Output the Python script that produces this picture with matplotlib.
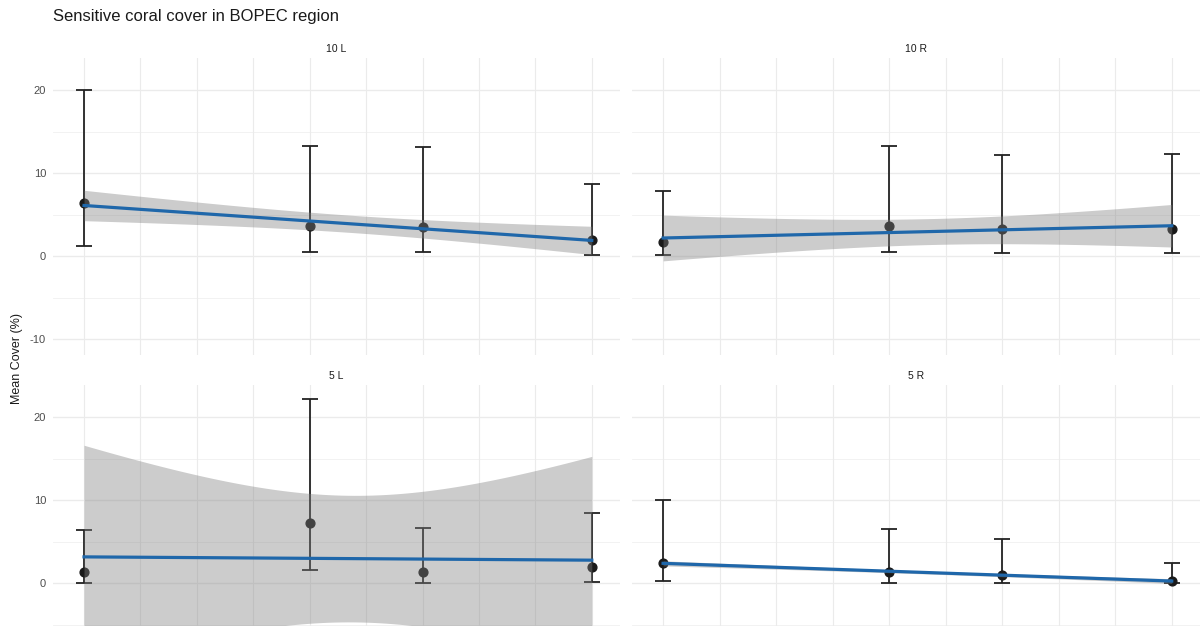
import numpy as np
import matplotlib
matplotlib.use('Agg')
import matplotlib.pyplot as plt

plt.rcParams['font.family'] = ['Liberation Sans', 'DejaVu Sans']
plt.rcParams['axes.unicode_minus'] = False

# survey years and sites (facets)
years = np.array([2011, 2015, 2017, 2020])
sites = ['10 L', '10 R', '5 L', '5 R']

# mean cover and error bar limits
mean_10L = [6.37, 3.67, 3.55, 2.02]
low_10L = [1.25, 0.56, 0.56, 0.16]
high_10L = [20.0, 13.34, 13.18, 8.75]

mean_10R = [1.73, 3.67, 3.27, 3.27]
low_10R = [0.12, 0.56, 0.44, 0.44]
high_10R = [7.82, 13.34, 12.17, 12.34]

mean_5L = [1.33, 7.30, 1.33, 1.94]
low_5L = [0.04, 1.57, 0.04, 0.20]
high_5L = [6.45, 22.26, 6.61, 8.51]

mean_5R = [2.46, 1.37, 0.97, 0.32]
low_5R = [0.28, 0.08, 0.08, 0.05]
high_5R = [10.0, 6.57, 5.32, 2.42]

means = [mean_10L, mean_10R, mean_5L, mean_5R]
lows = [low_10L, low_10R, low_5L, low_5R]
highs = [high_10L, high_10R, high_5L, high_5R]


def lm_fit(x, y, n=80):
    '''linear fit with 95% confidence band, like geom_smooth(method="lm")'''
    x = np.asarray(x, float)
    y = np.asarray(y, float)
    xc = x - x.mean()
    slope = np.sum(xc * (y - y.mean())) / np.sum(xc ** 2)
    icept = y.mean() - slope * x.mean()
    xs = np.linspace(x.min(), x.max(), n)
    fit = icept + slope * xs
    resid = y - (icept + slope * x)
    s = np.sqrt(np.sum(resid ** 2) / (len(x) - 2))
    se = s * np.sqrt(1 / len(x) + (xs - x.mean()) ** 2 / np.sum(xc ** 2))
    t = 4.302653  # t quantile 0.975, df = 2
    return xs, fit, fit - t * se, fit + t * se


fits = [lm_fit(years, m) for m in means]

# shared y range, expanded 5% like ggplot
ymin = min(min(min(l) for l in lows), min(f[2].min() for f in fits))
ymax = max(max(max(h) for h in highs), max(f[3].max() for f in fits))
pad = (ymax - ymin) * 0.05
ylim = (ymin - pad, ymax + pad)

W, H = 1203, 626
fig = plt.figure(figsize=(W / 100, H / 100), dpi=100)

# panel boxes in pixels: left, right, top
cols = [(53, 620), (632, 1200)]
rows = [58, 385]
ph = 297

for i, site in enumerate(sites):
    r, c = divmod(i, 2)
    x0, x1 = cols[c]
    top = rows[r]
    ax = fig.add_axes([x0 / W, 1 - (top + ph) / H, (x1 - x0) / W, ph / H])

    for yv in [-10, 0, 10, 20]:
        ax.axhline(yv, color='#EBEBEB', lw=1.0, zorder=0)
    for yv in [-5, 5, 15]:
        ax.axhline(yv, color='#F0F0F0', lw=0.6, zorder=0)
    for xv in range(2011, 2021):
        ax.axvline(xv, color='#EBEBEB', lw=0.8, zorder=0)

    m = np.array(means[i])
    lo = np.array(lows[i])
    hi = np.array(highs[i])
    ax.errorbar(years, m, yerr=[m - lo, hi - m], fmt='none', ecolor='#222222',
                elinewidth=1.3, capsize=6, capthick=1.3, zorder=2)
    ax.scatter(years, m, s=40, color='#1A1A1A', zorder=3)

    xs, fit, flo, fhi = fits[i]
    ax.fill_between(xs, flo, fhi, color='#808080', alpha=0.4, lw=0, zorder=4)
    ax.plot(xs, fit, color='#1F67AA', lw=2.3, zorder=5)

    ax.set_xlim(2010.45, 2020.5)
    ax.set_ylim(*ylim)
    ax.set_yticks([-10, 0, 10, 20])
    ax.set_xticks([])
    for sp in ax.spines.values():
        sp.set_visible(False)
    ax.tick_params(length=0, labelsize=8, labelcolor='#4D4D4D', pad=5)
    if c == 1:
        ax.set_yticklabels([])
    elif r == 1:
        # the -10 label of the lower row falls below the cropped picture
        ax.set_yticklabels(['', '0', '10', '20'])
    ax.set_title(site, fontsize=7.5, color='#1A1A1A', pad=4)

fig.text(53 / W, 1 - 17 / H, 'Sensitive coral cover in BOPEC region',
         fontsize=12, va='center', ha='left', color='#1A1A1A')
fig.text(17 / W, 1 - 358 / H, 'Mean Cover (%)', rotation=90,
         fontsize=9, va='center', ha='center', color='#1A1A1A')

fig.savefig('out.png', dpi=100)
